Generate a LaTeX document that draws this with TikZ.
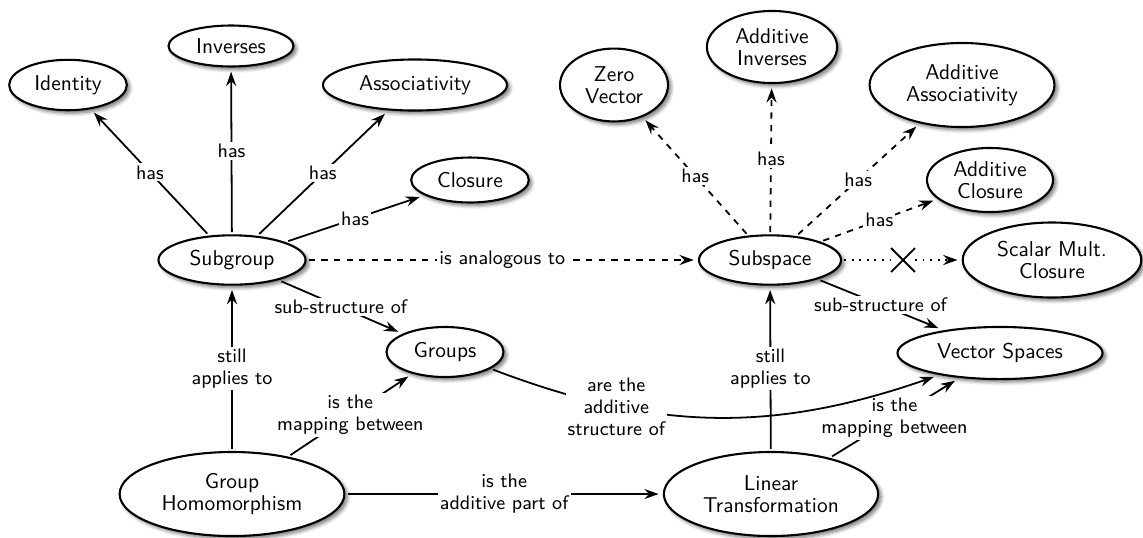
\documentclass[tikz,border=0pt]{standalone}
\usetikzlibrary{arrows.meta,shapes.geometric,shapes.misc,shadows,shadows.blur}
\begin{document}
\begin{tikzpicture}[x=0.476pt, y=-0.476pt,
  concept/.style={ellipse, draw, line width=1pt, fill=white, inner sep=0.5pt,
    outer sep=1.5pt, align=center, font=\sffamily\fontsize{10.2}{10.6}\selectfont,
    blur shadow={shadow blur steps=6, shadow xshift=1.4pt, shadow yshift=-1.4pt, shadow opacity=55}},
  rel/.style={line width=0.85pt, -{Stealth[length=6.8pt,width=4.8pt,inset=2.3pt]}, shorten >=1pt},
  lbl/.style={fill=white, inner sep=1pt, align=center,
    font=\sffamily\fontsize{9.3}{10.4}\selectfont},
  sparsedots/.style={dash pattern=on 0.9pt off 2.7pt},
  blocked/.style={cross out, draw, line width=0.85pt, minimum size=10.5pt, inner sep=0pt}]
\useasboundingbox (0,0) rectangle (1143,537);

% group side
\node[concept, minimum width=56pt, minimum height=24pt] (id) at (68,85) {Identity};
\node[concept, minimum width=59.5pt, minimum height=19.5pt] (inv) at (231,46) {Inverses};
\node[concept, minimum width=87.6pt, minimum height=24.3pt] (ass) at (415,85) {Associativity};
\node[concept, minimum width=56pt, minimum height=21.4pt] (clo) at (470,180) {Closure};
\node[concept, minimum width=70pt, minimum height=23.5pt] (sg) at (232,260) {Subgroup};
\node[concept, minimum width=55.7pt, minimum height=23.8pt] (grp) at (445,352) {Groups};
\node[concept, minimum width=107pt, minimum height=40pt] (gh) at (232,494) {Group\\Homomorphism};

% vector space side
\node[concept, minimum width=51.4pt, minimum height=34.7pt] (zv) at (614,85) {Zero\\Vector};
\node[concept, minimum width=62pt, minimum height=34.3pt] (ainv) at (772,47) {Additive\\Inverses};
\node[concept, minimum width=88pt, minimum height=40pt] (aass) at (962,85) {Additive\\Associativity};
\node[concept, minimum width=60pt, minimum height=30.5pt] (aclo) at (990,180) {Additive\\Closure};
\node[concept, minimum width=85pt, minimum height=35.7pt] (smc) at (1052,260) {Scalar Mult.\\Closure};
\node[concept, minimum width=67.6pt, minimum height=23.5pt] (ss) at (770,260) {Subspace};
\node[concept, minimum width=97.6pt, minimum height=24.8pt] (vs) at (1000,353) {Vector Spaces};
\node[concept, minimum width=102pt, minimum height=40pt] (lt) at (771,494) {Linear\\Transformation};
\node[blocked] (no) at (903,260) {};

% subgroup properties
\draw[rel] (sg) -- node[lbl]{has} (id);
\draw[rel] (sg) -- node[lbl]{has} (inv);
\draw[rel] (sg) -- node[lbl]{has} (ass);
\draw[rel] (sg) -- node[lbl]{has} (clo);

% subspace properties
\draw[rel, dashed] (ss) -- node[lbl]{has} (zv);
\draw[rel, dashed] (ss) -- node[lbl]{has} (ainv);
\draw[rel, dashed] (ss) -- node[lbl]{has} (aass);
\draw[rel, dashed] (ss) -- node[lbl]{has} (aclo);
\draw[line width=0.85pt, sparsedots] (ss) -- (no);
\draw[rel, sparsedots] (no) -- (smc);

% structural relations
\draw[rel, dashed] (sg) -- node[lbl]{is analogous to} (ss);
\draw[rel] (sg) -- node[lbl]{sub-structure of} (grp);
\draw[rel] (ss) -- node[lbl]{sub-structure of} (vs);
\draw[rel] (gh) -- node[lbl]{still\\applies to} (sg);
\draw[rel] (lt) -- node[lbl]{still\\applies to} (ss);
\draw[rel] (gh) -- node[lbl]{is the\\mapping between} (grp);
\draw[rel] (lt) -- node[lbl]{is the\\mapping between} (vs);
\draw[rel] (gh) -- node[lbl]{is the\\additive part of} (lt);
\draw[rel] (grp) to[bend right=20] node[lbl, pos=0.27]{are the\\additive\\structure of} (vs);
\end{tikzpicture}
\end{document}
